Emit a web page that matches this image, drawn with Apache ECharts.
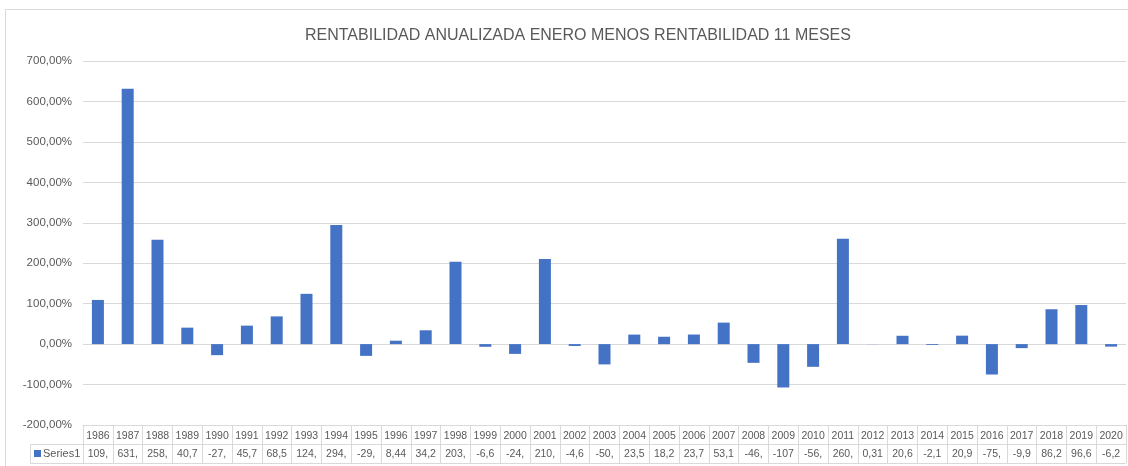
<!DOCTYPE html>
<html>
<head>
    <meta charset="utf-8">
    <title>Rentabilidad anualizada</title>
    <script src="https://cdn.jsdelivr.net/npm/echarts@6/dist/echarts.min.js"></script>
    <style>
        html, body {
            margin: 0;
            padding: 0;
            background: #fff;
        }
        #chart {
            width: 1128px;
            height: 466px;
        }
    </style>
</head>
<body>
<div id="chart"></div>
<script>
    // años (categorías)
    var years = ['1986', '1987', '1988', '1989', '1990', '1991', '1992', '1993', '1994', '1995',
        '1996', '1997', '1998', '1999', '2000', '2001', '2002', '2003', '2004', '2005',
        '2006', '2007', '2008', '2009', '2010', '2011', '2012', '2013', '2014', '2015',
        '2016', '2017', '2018', '2019', '2020'];

    // rentabilidad en %
    var series1 = [109.2, 631.4, 258.3, 40.7, -27.3, 45.7, 68.5, 124.3, 294.5, -29.1,
        8.44, 34.2, 203.4, -6.6, -24.2, 210.3, -4.6, -50.2, 23.5, 18.2,
        23.7, 53.1, -46.3, -107.2, -56.1, 260.4, 0.31, 20.6, -2.1, 20.9,
        -75.2, -9.9, 86.2, 96.6, -6.2];

    // textos de la tabla de datos (recortados como en Excel)
    var tableLabels = ['109,', '631,', '258,', '40,7', '-27,', '45,7', '68,5', '124,', '294,', '-29,',
        '8,44', '34,2', '203,', '-6,6', '-24,', '210,', '-4,6', '-50,', '23,5', '18,2',
        '23,7', '53,1', '-46,', '-107', '-56,', '260,', '0,31', '20,6', '-2,1', '20,9',
        '-75,', '-9,9', '86,2', '96,6', '-6,2'];

    var yTicks = [-200, -100, 0, 100, 200, 300, 400, 500, 600, 700];

    var gridColor = '#d9d9d9';
    var textColor = '#595959';
    var font = 'Liberation Sans';

    var chart = echarts.init(document.getElementById('chart'));

    var option = {
        animation: false,
        title: {
            text: 'RENTABILIDAD ANUALIZADA ENERO MENOS RENTABILIDAD 11 MESES',
            left: 300,
            top: 23,
            textStyle: {
                fontFamily: font,
                fontSize: 16,
                fontWeight: 'normal',
                color: textColor
            }
        },
        legend: {
            data: ['Series1'],
            left: 34,
            top: 448,
            padding: 0,
            icon: 'rect',
            itemWidth: 7,
            itemHeight: 7,
            itemGap: 4,
            textStyle: {
                fontFamily: font,
                fontSize: 11,
                color: textColor,
                padding: [0, 0, 0, -3]
            }
        },
        grid: {
            left: 83,
            right: 2,
            top: 61,
            bottom: 41
        },
        xAxis: [
            {
                type: 'category',
                data: years,
                position: 'bottom',
                axisLine: { show: true, onZero: false, lineStyle: { color: gridColor } },
                axisTick: { show: true, length: 38, interval: 0, lineStyle: { color: gridColor } },
                axisLabel: {
                    interval: 0,
                    margin: 6,
                    fontFamily: font,
                    fontSize: 10.5,
                    color: textColor
                }
            },
            {
                type: 'category',
                data: years,
                position: 'bottom',
                offset: 19,
                axisLine: { show: true, onZero: false, lineStyle: { color: gridColor } },
                axisTick: { show: false },
                axisLabel: {
                    interval: 0,
                    margin: 5,
                    fontFamily: font,
                    fontSize: 10.5,
                    color: textColor,
                    formatter: function (val, idx) {
                        return tableLabels[idx];
                    }
                }
            }
        ],
        yAxis: {
            type: 'value',
            min: yTicks[0],
            max: yTicks[yTicks.length - 1],
            interval: 100,
            axisLine: { show: false },
            axisTick: { show: false },
            splitLine: { lineStyle: { color: gridColor } },
            axisLabel: {
                margin: 11,
                fontFamily: font,
                fontSize: 11.5,
                color: textColor,
                formatter: function (v) {
                    return v + ',00%';
                }
            }
        },
        series: [
            {
                name: 'Series1',
                type: 'bar',
                xAxisIndex: 0,
                data: series1,
                barWidth: 12,
                itemStyle: { color: '#4472C4' }
            }
        ],
        graphic: [
            // borde del gráfico
            { type: 'rect', shape: { x: 5.5, y: 9.5, width: 1140, height: 470 },
              style: { fill: 'none', stroke: gridColor, lineWidth: 1 }, silent: true },
            // celda "Series1" de la tabla
            { type: 'line', shape: { x1: 30.5, y1: 444.5, x2: 83, y2: 444.5 },
              style: { stroke: gridColor, lineWidth: 1 } },
            { type: 'line', shape: { x1: 30.5, y1: 444.5, x2: 30.5, y2: 463.5 },
              style: { stroke: gridColor, lineWidth: 1 } },
            { type: 'line', shape: { x1: 30.5, y1: 463.5, x2: 1126, y2: 463.5 },
              style: { stroke: gridColor, lineWidth: 1 } }
        ]
    };

    chart.setOption(option);
</script>
</body>
</html>
